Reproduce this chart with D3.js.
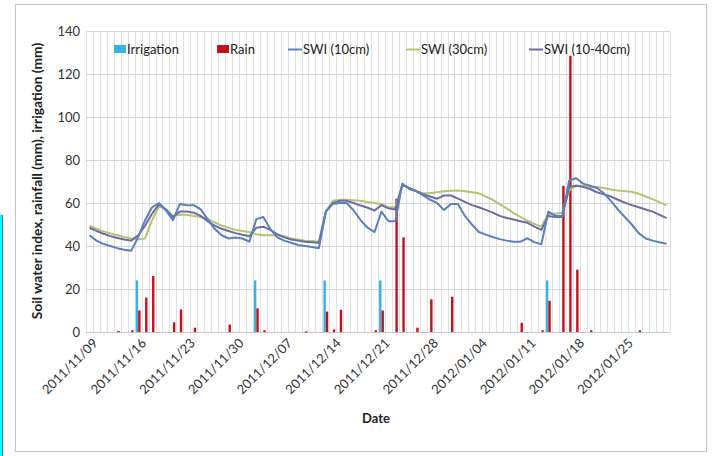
<!DOCTYPE html>
<html><head><meta charset="utf-8">
<script src="https://cdn.jsdelivr.net/npm/d3@7"></script>
<style>html,body{margin:0;padding:0;background:#fff;}svg{display:block;}</style>
</head><body>
<svg id="chart" width="712" height="456"></svg>
<script>
// ---- data ----
const startDay = "2011/11/09";
const endDayExclusive = "2012/02/01";
const tickLabels = ["2011/11/09","2011/11/16","2011/11/23","2011/11/30","2011/12/07","2011/12/14","2011/12/21","2011/12/28","2012/01/04","2012/01/11","2012/01/18","2012/01/25"];
const yTicks = [0,20,40,60,80,100,120,140];
const seriesNames = ["Irrigation","Rain","SWI (10cm)","SWI (30cm)","SWI (10-40cm)"];

const irrigation = [
 0,0,0,0,0,0,0,24,0,0,
 0,0,0,0,0,0,0,0,0,0,
 0,0,0,0,24,0,0,0,0,0,
 0,0,0,0,24,0,0,0,0,0,
 0,0,24,0,0,0,0,0,0,0,
 0,0,0,0,0,0,0,0,0,0,
 0,0,0,0,0,0,24,0,0,0,
 0,0,0,0,0,0,0,0,0,0,
 0,0,0,0];
const rain = [
 0,0,0,0,0.5,0,0.8,10,16,26,
 0,0,4.5,10.5,0,2,0,0,0,0,
 3.5,0,0,0,11,0.8,0,0,0,0,
 0,0.3,0,0,9.5,1.2,10.3,0,0,0,
 0,0.8,10,0,62,44,0,2,0,15.2,
 0,0,16.4,0,0,0,0,0,0,0,
 0,0,4.3,0,0,0.8,14.5,0,68,128.5,
 29,0,0.8,0,0,0,0,0,0,0.8,
 0,0,0,0];
const swi10 = [
 45,42.5,41,40,39,38.3,37.8,44,52,58,
 60,56.5,52,59.5,59,59,57,52.5,48,45,
 43.5,44,43.5,42,52.5,53.5,48,44,42.5,41.5,
 40.5,40,39.5,39,56,59.5,60,60,56.5,52,
 48.5,46.5,56,51.5,51.5,69,66.5,65.5,63.5,61.5,
 60,56.7,59.5,59.5,54,50,46.5,45.3,44.2,43.2,
 42.5,42,42,43.6,41.8,40.8,56,54,54,70.5,
 71.5,69,68,67,64.5,61,57,53.5,50,46,
 43.5,42.5,41.7,41];
const swi30 = [
 49.5,48,46.8,45.8,45,44.2,43.5,43,43.5,52,
 58.5,57,54,54.5,54.5,54,53.5,52.5,51,49.5,
 48.5,47.5,47,46.5,45.5,45,45,45,44.5,43.5,
 43,42.5,42.3,42,56,61,61.5,61.5,61.3,61,
 60.5,60,59.5,58,58,68.5,67,65.5,64.5,64.5,
 65,65.5,65.7,65.8,65.5,65,64.5,63,61.5,59.5,
 57.5,55.3,53.5,51.8,50.3,49,55,55,55.5,66,
 68,68,67.5,67.5,67,66.3,65.8,65.5,65.2,64.3,
 63,61.8,60.3,59];
const swi1040 = [
 48.5,47,45.7,44.6,43.7,43,42.5,45,49.5,55,
 59.5,57,53.5,56,56,55.5,54,51.5,49.5,48,
 47,46,45.2,44.5,48.5,49,47.5,45.5,44,43,
 42.5,42,41.8,41.5,56,60,61,61,60,58.8,
 57.8,56.5,59,57.5,57,68.5,67,65.5,64,63,
 62,63.5,63.5,62,60.5,59,58,56.8,55.5,54,
 53,52.3,51.5,50.8,49,47.5,54,53.5,53.5,67.5,
 68,67.5,66.5,65,64,63,61.5,60.2,59,58,
 57,56,54.5,53];

// ---- build ----
(function(){
const parse = d3.timeParse("%Y/%m/%d");
const fmt = d3.timeFormat("%Y/%m/%d");
const days = d3.timeDay.range(parse(startDay), parse(endDayExclusive)).map(fmt);

const colors = {
  "Irrigation":"#34b4e4","Rain":"#c0121c",
  "SWI (10cm)":"#5b80bf","SWI (30cm)":"#b5c46f","SWI (10-40cm)":"#6e6aa3"
};
const font = "Lato, 'Open Sans', sans-serif";

const svg = d3.select("#chart");
const pL = 86, pR = 670, pT = 31, pB = 332;

// artifact strip at left edge
svg.append("rect").attr("x",0).attr("y",215).attr("width",2).attr("height",241).attr("fill","#00ffff");
svg.append("rect").attr("x",2).attr("y",215).attr("width",1).attr("height",241).attr("fill","#3a6cff");
// outer frame
svg.append("rect").attr("x",15.5).attr("y",4.5).attr("width",691).attr("height",447)
  .attr("fill","none").attr("stroke","#c4c4c4").attr("stroke-width",1);

const x = d3.scaleBand().domain(days).range([pL, pR]).padding(0);
const y = d3.scaleLinear().domain([0,140]).range([pB, pT]);
const x1 = d3.scaleBand().domain(["Irrigation","Rain"]).range([x.bandwidth()/2-2.4, x.bandwidth()/2+2.4]);

// gridlines
const g = svg.append("g");
g.selectAll("line.v").data(days.concat(["__end"])).join("line")
  .attr("x1",(d,i)=>Math.round(pL + i*x.step())+0.5)
  .attr("x2",(d,i)=>Math.round(pL + i*x.step())+0.5)
  .attr("y1",pT).attr("y2",pB)
  .attr("stroke","#e0e0e0").attr("stroke-width",1);
g.selectAll("line.h").data(yTicks).join("line")
  .attr("x1",pL).attr("x2",pR)
  .attr("y1",d=>Math.round(y(d))+0.5).attr("y2",d=>Math.round(y(d))+0.5)
  .attr("stroke",d=>d===0?"#c8c8c8":"#d6d6d6").attr("stroke-width",1);

// y axis labels
const yAxis = d3.axisLeft(y).tickValues(yTicks).tickSize(0).tickPadding(0);
svg.append("g").attr("transform",`translate(${pL-6},0)`).call(yAxis)
  .call(s=>s.select(".domain").remove())
  .selectAll("text").attr("font-family",font).attr("font-size",13).attr("fill","#333");

// x axis labels
const xAxis = d3.axisBottom(x).tickValues(tickLabels).tickSize(0).tickPadding(0);
const xg = svg.append("g").attr("transform",`translate(0,${pB})`).call(xAxis);
xg.select(".domain").remove();
xg.selectAll("text")
  .attr("font-family",font).attr("font-size",13).attr("fill","#333")
  .attr("text-anchor","end").attr("dy",0)
  .attr("transform","translate(9,12) rotate(-45)");

// bars
const barData = [];
days.forEach((d,i)=>{
  if (irrigation[i]>0) barData.push({day:d, key:"Irrigation", v:irrigation[i]});
  if (rain[i]>0) barData.push({day:d, key:"Rain", v:rain[i]});
});
svg.append("g").selectAll("rect").data(barData).join("rect")
  .attr("x",d=>x(d.day)+x1(d.key))
  .attr("width",x1.bandwidth())
  .attr("y",d=>y(d.v))
  .attr("height",d=>Math.max(1.2, y(0)-y(d.v)))
  .attr("fill",d=>colors[d.key]);

// lines
const lineSeries = [["SWI (30cm)",swi30],["SWI (10-40cm)",swi1040],["SWI (10cm)",swi10]];
const line = d3.line().x((d,i)=>x(days[i])+x.bandwidth()/2).y(d=>y(d));
svg.append("g").selectAll("path").data(lineSeries).join("path")
  .attr("d",d=>line(d[1])).attr("fill","none")
  .attr("stroke",d=>colors[d[0]]).attr("stroke-width",2).attr("stroke-linejoin","round");

// legend
const legendX = {"Irrigation":114,"Rain":217,"SWI (10cm)":288,"SWI (30cm)":406,"SWI (10-40cm)":529};
const lg = svg.append("g");
seriesNames.forEach(n=>{
  const lx = legendX[n];
  if (n==="Irrigation"||n==="Rain") {
    lg.append("rect").attr("x",lx).attr("y",45).attr("width",12).attr("height",8).attr("fill",colors[n]);
    lg.append("text").attr("x",lx+13).attr("y",54).text(n);
  } else {
    lg.append("line").attr("x1",lx).attr("x2",lx+14).attr("y1",49.5).attr("y2",49.5)
      .attr("stroke",colors[n]).attr("stroke-width",2);
    lg.append("text").attr("x",lx+15).attr("y",54).text(n);
  }
});
lg.selectAll("text").attr("font-family",font).attr("font-size",13).attr("fill","#222");

// titles
svg.append("text").attr("transform","translate(42,181) rotate(-90)")
  .attr("text-anchor","middle").attr("font-family",font).attr("font-weight","bold")
  .attr("font-size",13.8).attr("fill","#222")
  .text("Soil water index, rainfall (mm), irrigation (mm)");
svg.append("text").attr("x",376).attr("y",423).attr("text-anchor","middle")
  .attr("font-family",font).attr("font-weight","bold").attr("font-size",13).attr("fill","#222")
  .text("Date");
})();
</script>
</body></html>
